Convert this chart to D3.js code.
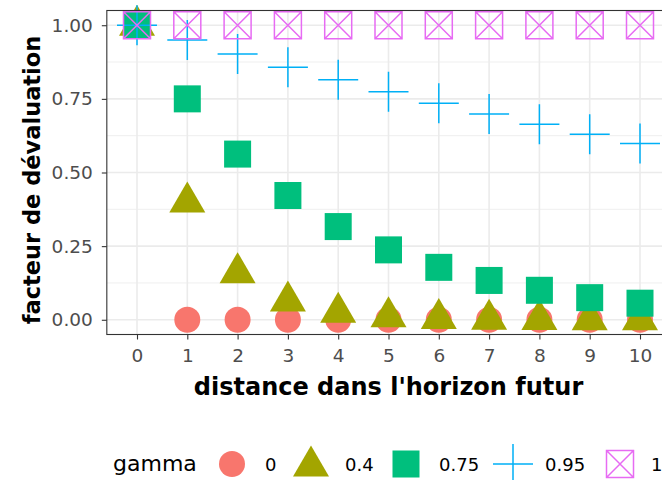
<!DOCTYPE html>
<html>
<head>
<meta charset="utf-8">
<script src="https://cdn.jsdelivr.net/npm/d3@7/dist/d3.min.js"></script>
<style>
body { margin: 0; background: #fff; }
svg { display: block; font-family: "DejaVu Sans", sans-serif; }
</style>
</head>
<body>
<svg width="662" height="480"></svg>
<script>
var distances = [0, 1, 2, 3, 4, 5, 6, 7, 8, 9, 10];
var gammas = ["0", "0.4", "0.75", "0.95", "1"];
var g0 = [1, 0, 0, 0, 0, 0, 0, 0, 0, 0, 0];
var g04 = [1, 0.4, 0.16, 0.064, 0.0256, 0.0102, 0.0041, 0.0016, 0.0007, 0.0003, 0.0001];
var g075 = [1, 0.75, 0.5625, 0.4219, 0.3164, 0.2373, 0.178, 0.1335, 0.1001, 0.0751, 0.0563];
var g095 = [1, 0.95, 0.9025, 0.8574, 0.8145, 0.7738, 0.7351, 0.6983, 0.6634, 0.6302, 0.5987];
var g1 = [1, 1, 1, 1, 1, 1, 1, 1, 1, 1, 1];
var yTicks = [0, 0.25, 0.5, 0.75, 1];
var seriesValues = [g0, g04, g075, g095, g1];
var colors = ["#F8766D", "#A3A500", "#00BF7D", "#00B0F6", "#E76BF3"];

var svg = d3.select("svg");
var x = d3.scalePoint().domain(distances).range([137, 640]);
var step = x.step();
var pLeft = x(0) - step * 0.6, pRight = x(10) + step * 0.6;
var y = d3.scaleLinear().domain([-0.05, 1.05]).range([334.5, 10.5]);
var pTop = y.range()[1], pBottom = y.range()[0];

// grille
var grid = svg.append("g");
[0.125, 0.375, 0.625, 0.875].forEach(function(v) {
	grid.append("line").attr("x1", pLeft).attr("x2", pRight).attr("y1", y(v)).attr("y2", y(v))
		.attr("stroke", "#EBEBEB").attr("stroke-width", 0.8);
});
yTicks.forEach(function(v) {
	grid.append("line").attr("x1", pLeft).attr("x2", pRight).attr("y1", y(v)).attr("y2", y(v))
		.attr("stroke", "#EBEBEB").attr("stroke-width", 1.6);
});
distances.forEach(function(d) {
	grid.append("line").attr("x1", x(d)).attr("x2", x(d)).attr("y1", pTop).attr("y2", pBottom)
		.attr("stroke", "#EBEBEB").attr("stroke-width", 1.6);
});

// formes
function drawShape(g, k, cx, cy) {
	var c = colors[k];
	if (k === 0) {
		g.append("circle").attr("cx", cx).attr("cy", cy).attr("r", 13).attr("fill", c);
	} else if (k === 1) {
		g.append("path").attr("d", "M" + (cx - 18) + "," + (cy + 10.5) + "L" + (cx + 18) + "," + (cy + 10.5)
			+ "L" + cx + "," + (cy - 20.5) + "Z").attr("fill", c);
	} else if (k === 2) {
		g.append("rect").attr("x", cx - 13.5).attr("y", cy - 13.5).attr("width", 27).attr("height", 27).attr("fill", c);
	} else if (k === 3) {
		g.append("path").attr("d", "M" + (cx - 20) + "," + cy + "H" + (cx + 20) + "M" + cx + "," + (cy - 20) + "V" + (cy + 20))
			.attr("stroke", c).attr("stroke-width", 1.5).attr("fill", "none");
	} else {
		var h = 13.5;
		g.append("path").attr("d", "M" + (cx - h) + "," + (cy - h) + "H" + (cx + h) + "V" + (cy + h) + "H" + (cx - h) + "Z"
			+ "M" + (cx - h) + "," + (cy - h) + "L" + (cx + h) + "," + (cy + h)
			+ "M" + (cx + h) + "," + (cy - h) + "L" + (cx - h) + "," + (cy + h))
			.attr("stroke", c).attr("stroke-width", 1.5).attr("fill", "none");
	}
}
var pts = svg.append("g");
seriesValues.forEach(function(vals, k) {
	vals.forEach(function(v, i) {
		drawShape(pts, k, x(distances[i]), y(v));
	});
});

// cadre
svg.append("rect").attr("x", pLeft).attr("y", pTop).attr("width", pRight - pLeft).attr("height", pBottom - pTop)
	.attr("fill", "none").attr("stroke", "#333333").attr("stroke-width", 1.1);

// axes
var yAxis = svg.append("g").attr("transform", "translate(" + pLeft + ",0)")
	.call(d3.axisLeft(y).tickValues(yTicks).tickSize(5).tickPadding(9).tickFormat(d3.format(".2f")));
var xAxis = svg.append("g").attr("transform", "translate(0," + pBottom + ")")
	.call(d3.axisBottom(x).tickSize(5).tickPadding(9));
[yAxis, xAxis].forEach(function(a) {
	a.attr("font-family", null).attr("font-size", null);
	a.select(".domain").remove();
	a.selectAll(".tick line").attr("stroke", "#333333").attr("stroke-width", 1.1);
	a.selectAll(".tick text").attr("fill", "#4D4D4D").style("font-size", "18.5px");
});

svg.append("text").attr("x", (pLeft + pRight) / 2).attr("y", 395).attr("text-anchor", "middle")
	.style("font-size", "24px").style("font-weight", "bold").text("distance dans l'horizon futur");
svg.append("text").attr("transform", "translate(40,180) rotate(-90)")
	.attr("text-anchor", "middle").style("font-size", "22.5px").style("font-weight", "bold")
	.text("facteur de dévaluation");

// légende
var legY = 464;
svg.append("text").attr("x", 113).attr("y", legY + 7).style("font-size", "22px").text("gamma");
var keyX = [232, 311, 406, 513, 620];
var labX = [265, 345, 439, 545, 651];
gammas.forEach(function(gm, k) {
	drawShape(svg, k, keyX[k], legY + (k === 1 ? 2 : 0));
	svg.append("text").attr("x", labX[k]).attr("y", legY + 6.5).style("font-size", "18px").text(gm);
});
</script>
</body>
</html>
